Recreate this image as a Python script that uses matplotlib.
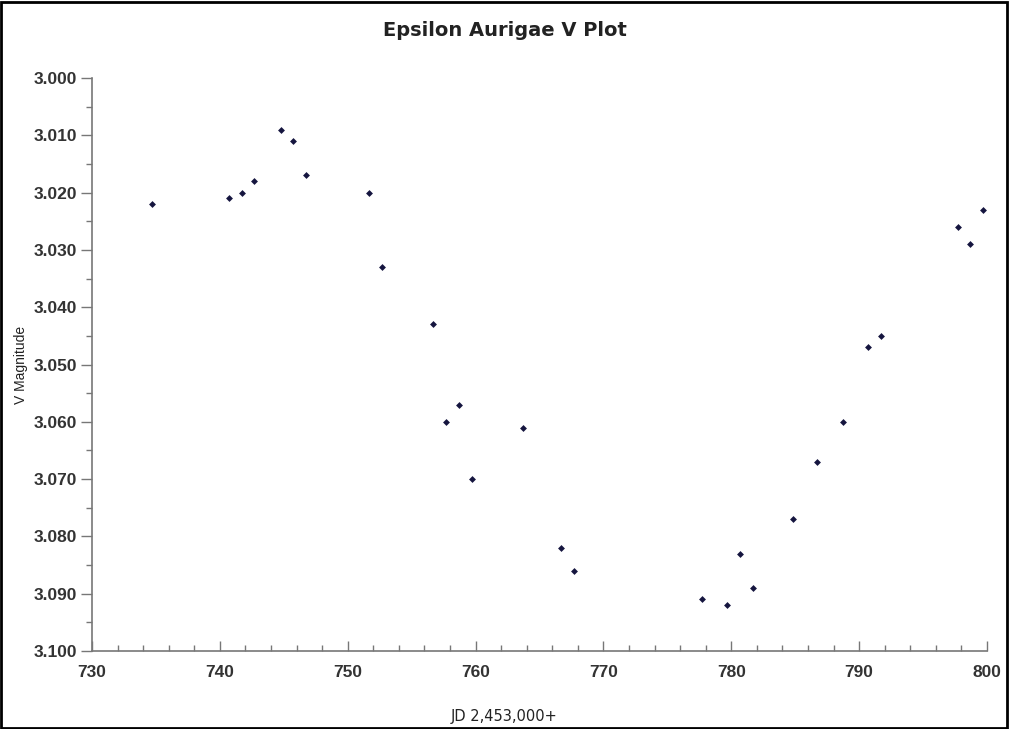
import numpy as np
import matplotlib.pyplot as plt
from matplotlib.ticker import MultipleLocator, FormatStrFormatter
from matplotlib.patches import Rectangle

# Julian date offset from 2,453,000 and V magnitude
jd = [734.7, 740.7, 741.7, 742.7, 744.8, 745.7, 746.7, 751.7, 752.7, 756.7,
      757.7, 758.7, 759.7, 763.7, 766.7, 767.7, 777.7, 779.7, 780.7, 781.7,
      784.8, 786.7, 788.7, 790.7, 791.7, 797.7, 798.7, 799.7]
vmag = [3.022, 3.021, 3.020, 3.018, 3.009, 3.011, 3.017, 3.020, 3.033, 3.043,
        3.060, 3.057, 3.070, 3.061, 3.082, 3.086, 3.091, 3.092, 3.083, 3.089,
        3.077, 3.067, 3.060, 3.047, 3.045, 3.026, 3.029, 3.023]

title = 'Epsilon Aurigae V Plot'
xlabel = 'JD 2,453,000+'
ylabel = 'V Magnitude'

fig = plt.figure(figsize=(10.09, 7.29), dpi=100)
ax = fig.add_axes([0.0912, 0.107, 0.887, 0.786])

ax.plot(jd, vmag, linestyle='none', marker='D', markersize=3.5,
        color='#15153f', markeredgewidth=0)

ax.set_xlim(730, 800)
ax.set_ylim(3.100, 3.000)

ax.xaxis.set_major_locator(MultipleLocator(10))
ax.xaxis.set_minor_locator(MultipleLocator(2))
ax.yaxis.set_major_locator(MultipleLocator(0.01))
ax.yaxis.set_minor_locator(MultipleLocator(0.005))
ax.yaxis.set_major_formatter(FormatStrFormatter('%.3f'))

for s in ['top', 'right']:
    ax.spines[s].set_visible(False)
for s in ['left', 'bottom']:
    ax.spines[s].set_color('#777777')
    ax.spines[s].set_linewidth(1.2)

ax.tick_params(axis='x', which='major', direction='in', length=7, width=1,
               color='#777777', pad=10)
ax.tick_params(axis='x', which='minor', direction='in', length=4, width=1,
               color='#777777')
ax.tick_params(axis='y', which='major', direction='out', length=8, width=1,
               color='#777777', pad=3)
ax.tick_params(axis='y', which='minor', direction='out', length=4, width=1,
               color='#777777')

for lab in ax.get_xticklabels() + ax.get_yticklabels():
    lab.set_family('Liberation Sans')
    lab.set_fontweight('bold')
    lab.set_fontsize(12.5)
    lab.set_color('#333333')

fig.text(0.5, 0.958, title, ha='center', va='center', fontsize=14,
         fontweight='bold', color='#222222')
fig.text(0.5, 0.017, xlabel, ha='center', va='center', fontsize=10.5,
         color='#222222')
fig.text(0.021, 0.5, ylabel, ha='center', va='center', rotation=90,
         fontsize=10, color='#222222', family='Liberation Sans')

# border round the whole picture
fig.patches.append(Rectangle((0.001, 0.002), 0.997, 0.995, transform=fig.transFigure,
                             fill=False, edgecolor='black', linewidth=2))

fig.savefig('out.png', dpi=100)
